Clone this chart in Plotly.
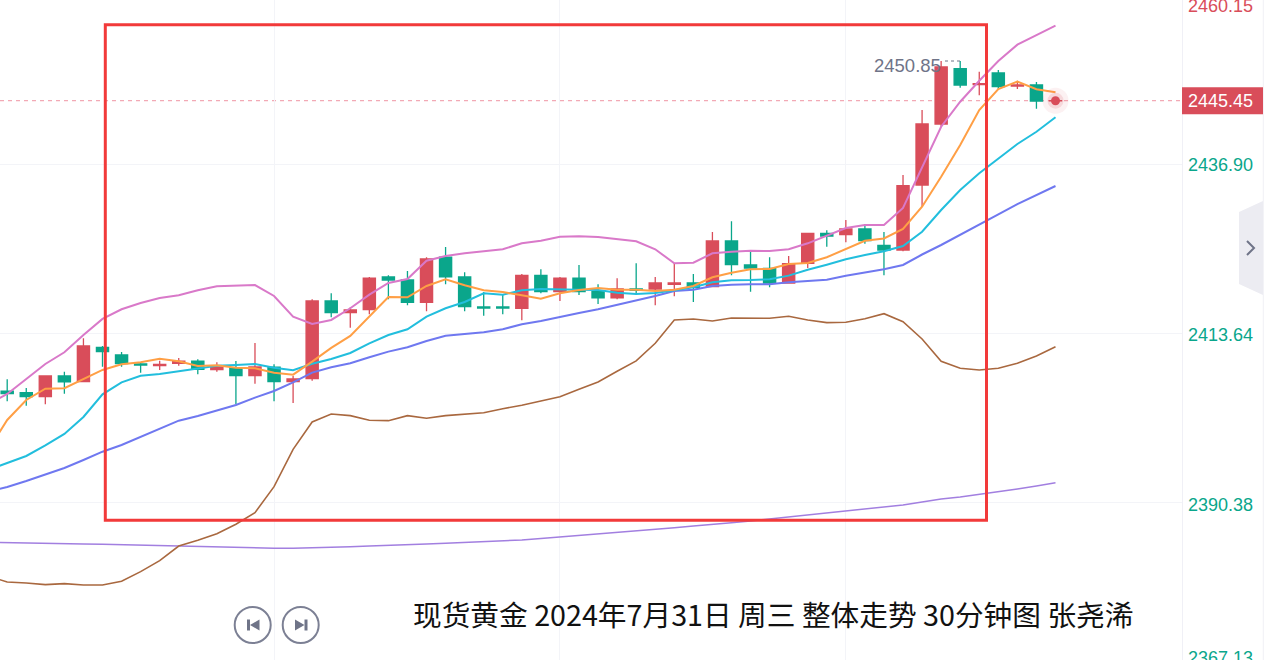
import plotly.graph_objects as go

WIDTH = 1264
HEIGHT = 660
PLOT_RIGHT = 1182
FIRST_BAR_PX = 7.2
BAR_STEP_PX = 19.06

RED = "#D94D5A"
GREEN = "#0AA68B"
GRAY = "#6F7488"
GRID = "#F3F4F8"

TITLE = "现货黄金 2024年7月31日 周三 整体走势 30分钟图 张尧浠"
PRICE_TICKS = [2436.90, 2413.64, 2390.38]
PRICE_TICK_ROWS = [165, 335, 505]
PRICE_TOP = "2460.15"
PRICE_BOTTOM = "2367.13"
LAST_PRICE = "2445.45"
HIGH_LABEL = "2450.85"
TIME_GRID = [14, 29, 44]

# 30 minute candles
opens = [
    2405.66, 2405.46, 2404.91, 2407.76, 2406.98, 2411.71, 2410.65, 2409.41,
    2409.20, 2409.51, 2409.79, 2408.63, 2408.90, 2407.80, 2408.96, 2406.98,
    2407.39, 2418.08, 2416.47, 2416.89, 2421.39, 2420.97, 2417.90, 2424.10,
    2421.39, 2417.26, 2417.26, 2417.08, 2421.62, 2419.36, 2421.21, 2419.36,
    2418.50, 2419.73, 2419.73, 2420.38, 2420.56, 2420.05, 2426.34, 2423.04,
    2422.58, 2420.56, 2423.27, 2427.40, 2427.21, 2427.99, 2425.75, 2425.10,
    2434.05, 2442.44, 2450.06, 2447.85, 2449.46, 2447.67, 2447.81, 2445.62,
]
highs = [
    2407.31, 2406.11, 2407.76, 2408.35, 2412.95, 2411.89, 2411.06, 2409.68,
    2409.87, 2410.24, 2410.06, 2409.65, 2409.83, 2412.30, 2409.37, 2407.76,
    2418.32, 2419.14, 2417.21, 2421.39, 2421.62, 2422.21, 2424.10, 2425.52,
    2422.03, 2419.32, 2418.91, 2421.80, 2422.45, 2421.39, 2423.04, 2420.38,
    2421.21, 2423.27, 2421.39, 2423.27, 2421.80, 2427.58, 2429.05, 2425.10,
    2424.10, 2424.28, 2427.40, 2427.81, 2429.23, 2428.64, 2427.58, 2435.43,
    2444.37, 2451.11, 2451.11, 2449.64, 2449.88, 2448.40, 2448.22, 2445.70,
]
lows = [
    2404.28, 2403.68, 2403.87, 2405.33, 2406.98, 2409.04, 2409.04, 2408.22,
    2408.59, 2409.17, 2408.00, 2408.35, 2403.87, 2406.70, 2404.28, 2404.05,
    2407.11, 2415.84, 2414.41, 2416.25, 2418.32, 2417.49, 2416.67, 2420.38,
    2416.67, 2416.06, 2416.25, 2415.43, 2419.14, 2418.08, 2418.91, 2417.67,
    2418.32, 2418.91, 2417.49, 2418.73, 2417.95, 2420.05, 2421.62, 2419.36,
    2419.97, 2420.56, 2422.62, 2425.55, 2426.16, 2425.97, 2421.62, 2424.92,
    2431.06, 2442.07, 2447.44, 2446.39, 2447.26, 2447.26, 2444.55, 2445.58,
]
closes = [
    2405.33, 2404.91, 2407.76, 2406.94, 2411.89, 2411.11, 2409.45, 2409.27,
    2409.34, 2409.79, 2408.68, 2409.00, 2407.80, 2409.00, 2406.98, 2407.35,
    2418.08, 2416.47, 2416.84, 2421.21, 2420.97, 2417.90, 2423.86, 2421.39,
    2417.30, 2417.12, 2417.12, 2421.62, 2419.36, 2421.21, 2419.36, 2418.50,
    2419.73, 2419.56, 2420.56, 2420.56, 2419.97, 2426.34, 2423.08, 2422.62,
    2420.56, 2423.22, 2427.40, 2427.03, 2427.99, 2426.38, 2425.10, 2433.95,
    2442.44, 2450.29, 2447.81, 2447.99, 2447.58, 2447.81, 2445.61, 2445.65,
]

# the lines carry one more bar on the left, which is cut by the frame
boll_upper = [
    2403.91, 2405.28, 2407.35, 2409.41, 2411.02, 2413.40, 2415.61, 2416.94,
    2417.81, 2418.50, 2418.87, 2419.56, 2420.11, 2420.24, 2420.28, 2418.77,
    2415.92, 2414.92, 2415.47, 2417.08, 2418.95, 2420.56, 2421.11, 2423.63,
    2424.28, 2424.65, 2424.92, 2425.20, 2426.02, 2426.38, 2426.93, 2426.99,
    2426.89, 2426.58, 2426.30, 2425.20, 2423.27, 2423.35, 2424.65, 2424.87,
    2425.01, 2424.96, 2425.20, 2426.02, 2427.07, 2428.13, 2428.54, 2428.54,
    2430.88, 2436.57, 2442.07, 2445.51, 2448.40, 2451.11, 2453.36, 2454.69,
    2455.97,
]
ma_fast = [
    2397.58, 2401.71, 2404.46, 2406.01, 2406.07, 2407.31, 2408.59, 2409.37,
    2409.65, 2410.14, 2409.79, 2409.14, 2409.23, 2408.90, 2408.82, 2408.22,
    2407.94, 2409.73, 2411.62, 2413.27, 2415.92, 2418.63, 2418.59, 2420.15,
    2421.07, 2420.24, 2419.56, 2419.32, 2418.87, 2418.40, 2419.14, 2419.60,
    2419.87, 2419.64, 2419.64, 2419.46, 2419.64, 2420.15, 2421.35, 2421.98,
    2422.45, 2422.49, 2423.18, 2423.31, 2424.10, 2425.20, 2426.38, 2426.69,
    2427.99, 2431.06, 2435.19, 2439.55, 2444.37, 2447.26, 2448.27, 2447.22,
    2446.81,
]
ma_mid = [
    2394.82, 2395.79, 2396.75, 2398.20, 2399.78, 2402.12, 2405.24, 2406.89,
    2407.80, 2408.04, 2408.45, 2408.77, 2409.18, 2409.27, 2409.41, 2408.90,
    2408.55, 2409.45, 2410.10, 2410.93, 2412.26, 2413.40, 2414.19, 2415.92,
    2417.08, 2417.95, 2419.14, 2418.95, 2419.56, 2419.73, 2419.73, 2419.64,
    2419.60, 2419.23, 2419.05, 2419.18, 2419.56, 2419.97, 2420.66, 2420.93,
    2420.97, 2421.07, 2421.57, 2422.39, 2423.08, 2423.82, 2424.41, 2424.92,
    2425.65, 2427.62, 2430.61, 2433.36, 2435.66, 2437.72, 2439.69, 2441.38,
    2443.37,
]
ma_slow = [
    2391.84, 2392.48, 2393.31, 2394.20, 2395.10, 2396.20, 2397.34, 2398.26,
    2399.37, 2400.47, 2401.61, 2402.26, 2403.01, 2403.77, 2404.78, 2405.70,
    2406.89, 2408.22, 2408.96, 2409.51, 2410.34, 2411.11, 2411.71, 2412.58,
    2413.31, 2413.54, 2413.78, 2414.19, 2414.88, 2415.33, 2415.92, 2416.43,
    2416.94, 2417.53, 2418.08, 2418.77, 2419.46, 2419.64, 2420.15, 2420.33,
    2420.38, 2420.38, 2420.66, 2420.84, 2421.02, 2421.57, 2421.98, 2422.45,
    2423.04, 2424.48, 2425.79, 2427.17, 2428.54, 2429.99, 2431.43, 2432.67,
    2433.91,
]
boll_lower = [
    2380.23, 2379.41, 2379.27, 2379.04, 2379.18, 2379.00, 2379.00, 2379.51,
    2380.83, 2382.34, 2384.36, 2385.15, 2386.06, 2387.35, 2388.95, 2392.53,
    2397.67, 2401.43, 2402.53, 2402.30, 2401.66, 2401.61, 2402.30, 2401.94,
    2402.30, 2402.49, 2402.71, 2403.26, 2403.73, 2404.32, 2404.91, 2405.93,
    2406.94, 2408.41, 2409.83, 2412.26, 2415.47, 2415.61, 2415.33, 2415.74,
    2415.70, 2415.70, 2415.98, 2415.47, 2415.10, 2415.15, 2415.65, 2416.34,
    2415.23, 2412.85, 2409.79, 2408.82, 2408.59, 2408.82, 2409.51, 2410.51,
    2411.79,
]
ma_long = [
    2384.89, 2384.82, 2384.78, 2384.74, 2384.68, 2384.64, 2384.60, 2384.54,
    2384.47, 2384.42, 2384.36, 2384.28, 2384.20, 2384.12, 2384.07, 2384.05,
    2384.05, 2384.09, 2384.14, 2384.25, 2384.36, 2384.43, 2384.53, 2384.64,
    2384.74, 2384.85, 2384.94, 2385.05, 2385.19, 2385.40, 2385.60, 2385.81,
    2386.02, 2386.22, 2386.43, 2386.66, 2386.88, 2387.12, 2387.30, 2387.56,
    2387.81, 2388.08, 2388.36, 2388.63, 2388.91, 2389.18, 2389.46, 2389.73,
    2390.01, 2390.42, 2390.83, 2391.11, 2391.45, 2391.86, 2392.21, 2392.62,
    2393.08,
]

bar_index = list(range(len(opens)))
line_index = list(range(-1, len(opens)))


def paper_x(px):
    return px / PLOT_RIGHT


def paper_y(py):
    return 1 - py / HEIGHT


def pixel_line(x0, y0, x1, y1, color, width=1.0, dash="solid"):
    return dict(
        type="line", xref="paper", yref="paper",
        x0=paper_x(x0), y0=paper_y(y0), x1=paper_x(x1), y1=paper_y(y1),
        line=dict(color=color, width=width, dash=dash),
    )


def pixel_path(points, fill, close=True):
    coords = [f"{paper_x(x)},{paper_y(y)}" for x, y in points]
    path = "M " + " L ".join(coords) + (" Z" if close else "")
    return dict(
        type="path", xref="paper", yref="paper", path=path,
        fillcolor=fill if close else "rgba(0,0,0,0)",
        line=dict(color=fill, width=0 if close else 2),
    )


def pixel_circle(cx, cy, r):
    return dict(
        type="circle", xref="paper", yref="paper",
        x0=paper_x(cx - r), x1=paper_x(cx + r),
        y0=paper_y(cy + r), y1=paper_y(cy - r),
        fillcolor="white", line=dict(color="#7C8094", width=2),
    )


def axis_note(text, py, color):
    return dict(
        text=text, xref="paper", yref="paper",
        x=paper_x(1186), y=paper_y(py), xanchor="left", yanchor="middle",
        showarrow=False, font=dict(family="Liberation Sans", size=18, color=color),
    )


fig = go.Figure()

fig.add_trace(
    go.Candlestick(
        x=bar_index, open=opens, high=highs, low=lows, close=closes,
        increasing=dict(fillcolor=RED, line=dict(color=RED, width=1.3)),
        decreasing=dict(fillcolor=GREEN, line=dict(color=GREEN, width=1.3)),
        whiskerwidth=0,
    )
)

for values, color, width in [
    (ma_long, "#A27FE0", 1.5),
    (boll_lower, "#A9683F", 1.6),
    (boll_upper, "#D979C9", 2),
    (ma_slow, "#6F78F0", 2),
    (ma_mid, "#22BEDD", 2),
    (ma_fast, "#FF9F45", 2),
]:
    fig.add_trace(
        go.Scatter(
            x=line_index, y=values, mode="lines",
            line=dict(color=color, width=width),
        )
    )

# pulsing dot on the last price
for size, color in [(26, "rgba(217,77,90,0.08)"), (16, "rgba(217,77,90,0.15)"), (9, "#D94D5A")]:
    fig.add_trace(
        go.Scatter(
            x=bar_index[-1:], y=closes[-1:], mode="markers",
            marker=dict(size=size, color=color, line=dict(width=0)),
        )
    )

shapes = [
    # last price line
    dict(
        type="line", xref="paper", yref="y", x0=0, x1=1,
        y0=closes[-1], y1=closes[-1],
        line=dict(color="#F2A9B5", width=1.3, dash="4px,4px"), layer="below",
    ),
    # hand drawn frame
    dict(
        type="rect", xref="paper", yref="paper",
        x0=paper_x(105.3), x1=paper_x(986.5), y0=paper_y(520.3), y1=paper_y(24.7),
        line=dict(color="#F23A3A", width=3),
    ),
    # right scale edge, side tab
    pixel_line(1263.3, 0, 1263.3, 660, "#F0F0F6"),
    pixel_path([(1239, 212), (1263, 201), (1263, 295), (1239, 284)], "#ECECF2"),
    pixel_path([(1247, 241), (1254, 248), (1247, 255)], GRAY, close=False),
    # dotted stub of the high label
    pixel_line(945, 61, 961, 61, GRAY, dash="dot"),
    # nav buttons
    pixel_circle(252.7, 625, 18),
    pixel_circle(300.7, 625, 18),
    pixel_path([(247, 619.5), (250, 619.5), (250, 630.5), (247, 630.5)], GRAY),
    pixel_path([(250, 625), (259.5, 619.5), (259.5, 630.5)], GRAY),
    pixel_path([(295, 619.5), (304.5, 625), (295, 630.5)], GRAY),
    pixel_path([(304.5, 619.5), (307.5, 619.5), (307.5, 630.5), (304.5, 630.5)], GRAY),
    # last price tag
    dict(
        type="rect", xref="paper", yref="paper",
        x0=paper_x(1182), x1=paper_x(1263), y0=paper_y(114.3), y1=paper_y(87.3),
        fillcolor=RED, line=dict(width=0),
    ),
]

annotations = [
    dict(
        text=TITLE, xref="paper", yref="paper",
        x=paper_x(411), y=paper_y(613), xanchor="left", yanchor="middle",
        showarrow=False, font=dict(family="Noto Sans CJK SC", size=28.7, color="#111111"),
    ),
    dict(
        text=HIGH_LABEL, xref="paper", yref="paper",
        x=paper_x(943), y=paper_y(65), xanchor="right", yanchor="middle",
        showarrow=False, font=dict(family="Liberation Sans", size=18.5, color=GRAY),
    ),
    axis_note(PRICE_TOP, 6, RED),
    axis_note(PRICE_BOTTOM, 658, GREEN),
    axis_note(LAST_PRICE, 101, "white"),
]
for tick, row in zip(PRICE_TICKS, PRICE_TICK_ROWS):
    annotations.append(axis_note(f"{tick:.2f}", row, GREEN))

fig.update_layout(
    width=WIDTH,
    height=HEIGHT,
    margin=dict(l=0, r=WIDTH - PLOT_RIGHT, t=0, b=0),
    paper_bgcolor="white",
    plot_bgcolor="white",
    showlegend=False,
    boxgap=0.1,
    boxgroupgap=0.29,
    shapes=shapes,
    annotations=annotations,
)
fig.update_xaxes(
    range=[-FIRST_BAR_PX / BAR_STEP_PX, (PLOT_RIGHT - FIRST_BAR_PX) / BAR_STEP_PX],
    rangeslider_visible=False,
    tickmode="array",
    tickvals=TIME_GRID,
    showticklabels=False,
    showgrid=True,
    gridcolor=GRID,
    gridwidth=1,
    zeroline=False,
)
fig.update_yaxes(
    range=[2368.67, 2459.51],
    side="right",
    tickmode="array",
    tickvals=PRICE_TICKS,
    showticklabels=False,
    showgrid=True,
    gridcolor=GRID,
    gridwidth=1,
    zeroline=False,
    showline=True,
    linecolor="#F0F0F6",
    linewidth=1,
)

# the page's default body margin would push the figure 8px down and right
fig.write_html(
    "out.html",
    config={"displayModeBar": False},
    post_script="document.body.style.margin = '0';",
)
